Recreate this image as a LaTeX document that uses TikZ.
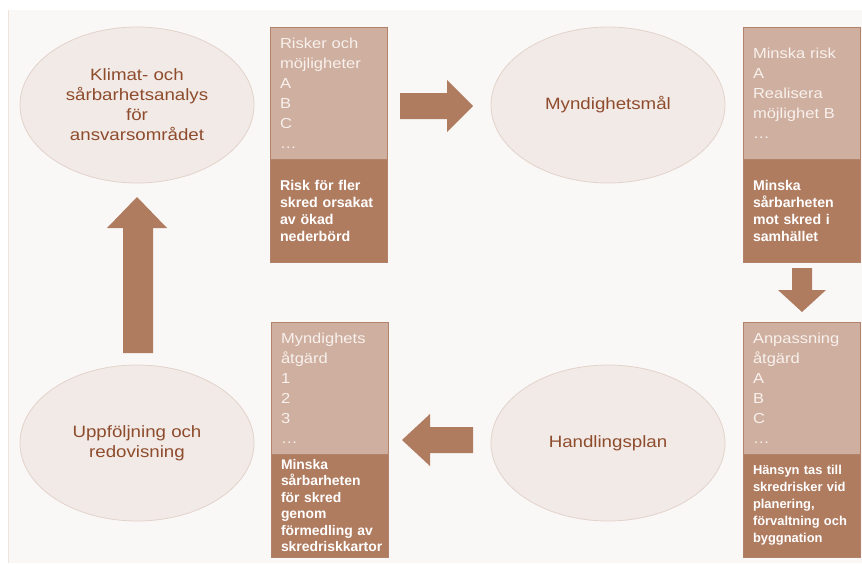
\documentclass[tikz,border=0pt]{standalone}
\usepackage{fontspec}
\setmainfont{Liberation Sans}[FakeStretch=1.14]
\newfontfamily\bsans{Liberation Sans}
\usetikzlibrary{shapes.geometric}
\definecolor{panel}{HTML}{FAF8F7}
\definecolor{panelline}{HTML}{EDE4DC}
\definecolor{ellfill}{HTML}{F2EAE6}
\definecolor{elldraw}{HTML}{E2D3CB}
\definecolor{elltext}{HTML}{8E4C2D}
\definecolor{boxlight}{HTML}{CFAF9F}
\definecolor{boxdark}{HTML}{B07C60}
\definecolor{boxline}{HTML}{B3826A}
\definecolor{lighttext}{HTML}{F8F1ED}
\definecolor{arrowc}{HTML}{B07C60}
\tikzset{
  ell/.style={ellipse, minimum width=234pt, minimum height=156pt, inner sep=0pt,
    fill=ellfill, draw=elldraw, line width=0.8pt, text=elltext, align=center,
    font=\fontsize{16.4}{20}\selectfont},
  boxtop/.style={rectangle, minimum width=117pt, minimum height=132pt, text width=97pt,
    inner xsep=10pt, inner ysep=0pt, fill=boxlight, draw=boxline, line width=0.8pt,
    text=lighttext, align=left, font=\fontsize{14.5}{20}\selectfont},
  boxbot/.style={rectangle, minimum width=117pt, minimum height=103pt, text width=97pt,
    inner xsep=10pt, inner ysep=0pt, fill=boxdark, draw=boxline, line width=0.8pt,
    text=white, align=left},
  blockarrow/.style={fill=arrowc, draw=none}
}
\begin{document}
\begin{tikzpicture}[x=1pt,y=-1pt]
\useasboundingbox (0,0) rectangle (862,563);
\fill[white] (0,0) rectangle (862,563);
\fill[panel] (8,10) rectangle (862,563);
\draw[panelline, line width=0.8pt] (8,10) -- (8,563);

% ellipses
\node[ell] (klimat) at (137,105) {Klimat- och\\sårbarhetsanalys\\för\\ansvarsområdet};
\node[ell] (mal) at (608,105) {Myndighetsmål};
\node[ell] (uppf) at (137,443) {Uppföljning och\\redovisning};
\node[ell] (plan) at (608,443) {Handlingsplan};

% box 1
\node[boxtop] (b1t) at (328.5,93) {Risker och\\möjligheter\\A\\B\\C\\…};
\node[boxbot, font=\bsans\bfseries\fontsize{14.2}{17}\selectfont] (b1b) at (328.5,210.5) {Risk för fler\\skred orsakat\\av ökad\\nederbörd};

% box 2
\node[boxtop] (b2t) at (801.5,93) {Minska risk\\A\\Realisera\\möjlighet B\\…};
\node[boxbot, font=\bsans\bfseries\fontsize{14.1}{17}\selectfont] (b2b) at (801.5,210.5) {Minska\\sårbarheten\\mot skred i\\samhället};

% box 3
\node[boxtop] (b3t) at (329.5,388) {Myndighets\\åtgärd\\1\\2\\3\\…};
\node[boxbot, font=\bsans\bfseries\fontsize{13.9}{16.5}\selectfont] (b3b) at (329.5,505.5) {Minska\\sårbarheten\\för skred\\genom\\förmedling av\\skredriskkartor};

% box 4
\node[boxtop] (b4t) at (801.5,388) {Anpassning\\åtgärd\\A\\B\\C\\…};
\node[boxbot, font=\bsans\bfseries\fontsize{12.9}{17}\selectfont] (b4b) at (801.5,505.5) {Hänsyn tas till\\skredrisker vid\\planering,\\förvaltning och\\byggnation};

% block arrows
\fill[blockarrow] (400,93) -- (447,93) -- (447,80) -- (473,106) -- (447,132) -- (447,119) -- (400,119) -- cycle;
\fill[blockarrow] (792,268) -- (812,268) -- (812,290) -- (826,290) -- (802,312) -- (778,290) -- (792,290) -- cycle;
\fill[blockarrow] (473,427) -- (430,427) -- (430,414) -- (402,440) -- (430,466) -- (430,453) -- (473,453) -- cycle;
\fill[blockarrow] (123,353) -- (153,353) -- (153,228) -- (167,228) -- (137,197) -- (107,228) -- (123,228) -- cycle;
\end{tikzpicture}
\end{document}
